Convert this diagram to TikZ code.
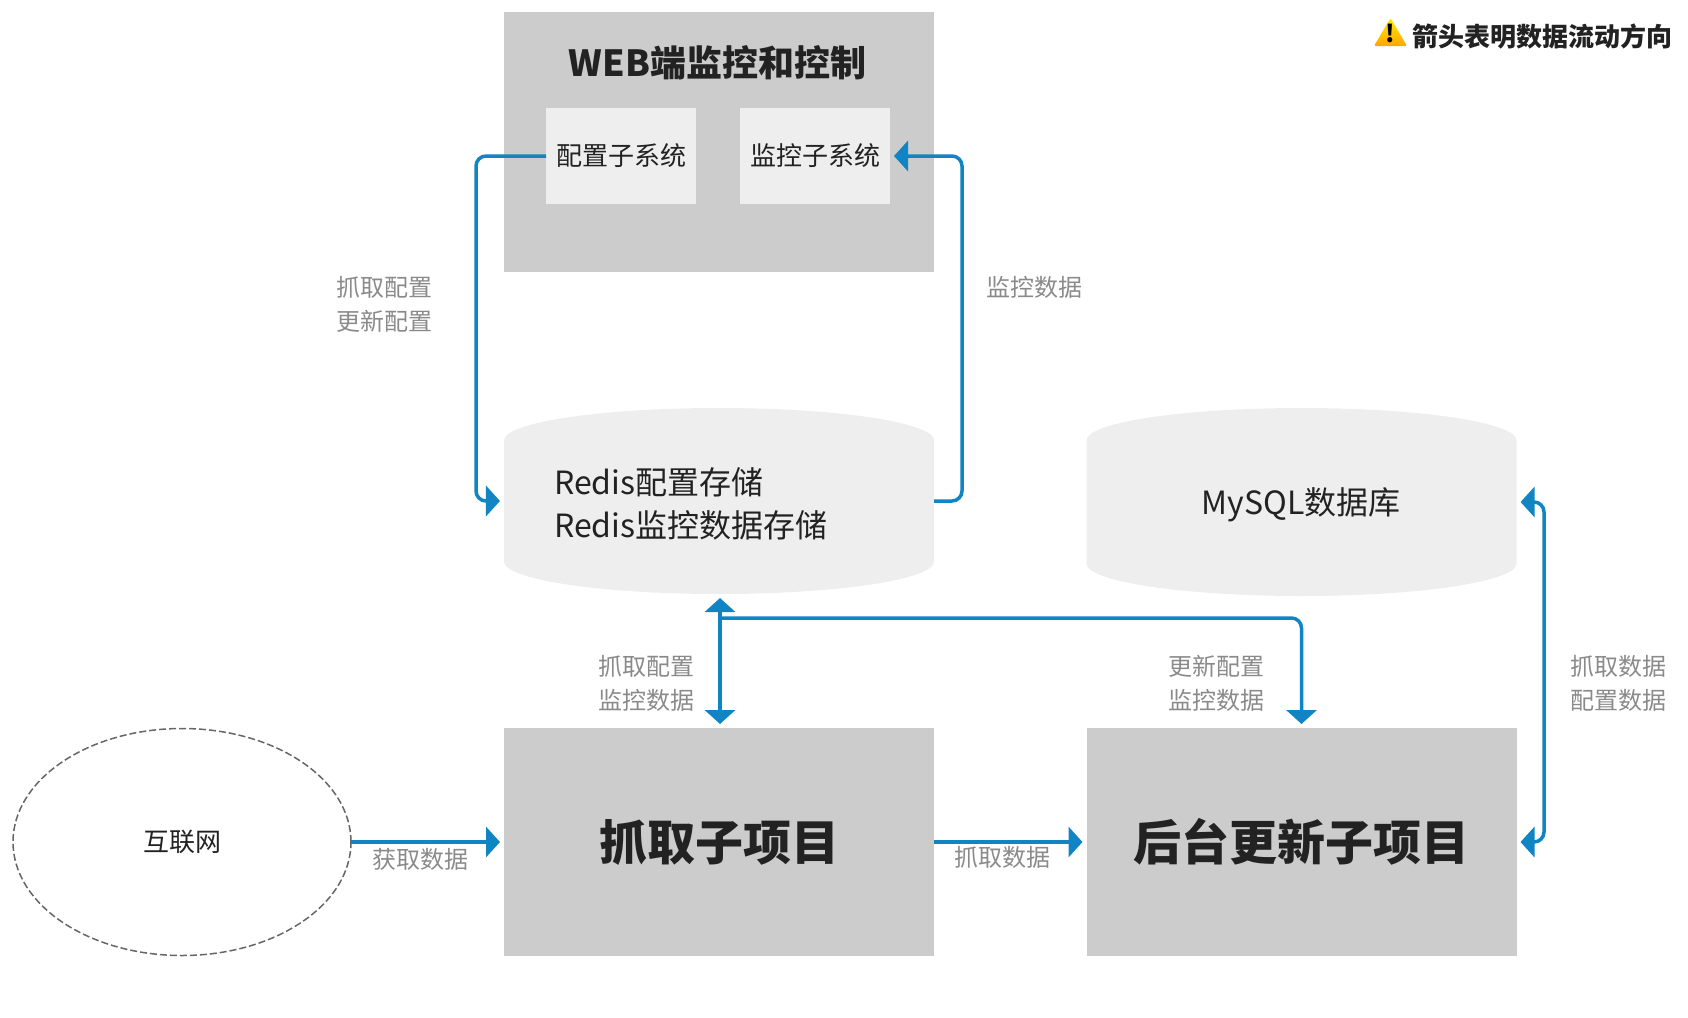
\documentclass[tikz,border=0pt]{standalone}
\usepackage{fontspec}
\setmainfont{Noto Sans CJK SC}
\usetikzlibrary{arrows.meta,positioning,shapes.geometric}
\definecolor{pilblue}{HTML}{1184C3}
\definecolor{boxgray}{HTML}{CCCCCC}
\definecolor{boxlight}{HTML}{EEEEEE}
\definecolor{txtdark}{HTML}{222222}
\definecolor{txtgray}{HTML}{8A8A8A}
\tikzset{
    >={Triangle[length=7pt,width=15pt]},
    boks/.style={
           rectangle,
           fill=boxgray,
           inner sep=0pt, outer sep=0pt,
           text=txtdark},
    subboks/.style={
           boks,
           fill=boxlight,
           minimum width=75pt,
           minimum height=48pt,
           font=\fontsize{13}{16}\selectfont},
    tank/.style={
           cylinder,
           shape border rotate=90,
           aspect=.326,
           anchor=shape center,
           fill=boxlight,
           inner sep=0pt, outer sep=0pt,
           minimum width=215pt,
           minimum height=93pt,
           font=\fontsize{16}{21.7}\selectfont},
    tanktxt/.style={
           text=txtdark,
           align=left,
           font=\fontsize{16}{21.7}\selectfont},
    graatxt/.style={
           text=txtgray,
           align=center,
           font=\fontsize{12}{17}\selectfont},
    pil/.style={
           line width=1.75pt,
           draw=pilblue,
           rounded corners=5pt,
           shorten >=2pt,
           shorten <=0pt}
}
\begin{document}
\begin{tikzpicture}[x=0.5pt,y=-0.5pt]
          \useasboundingbox (0,0) rectangle (1688,1018);
          % boxes
          \node[boks,minimum width=215pt,minimum height=130pt](web) at (719,142) {};
          \node[text=txtdark,font=\fontsize{18}{20}\bfseries](webtxt) at (717.5,63) {WEB端监控和控制};
          \node[subboks](cfg) at (621,156) {配置子系统};
          \node[subboks](mon) at (815,156) {监控子系统};
          \node[tank](redis) at (719,501) {\phantom{MySQL数据库}};
          \node[tanktxt,anchor=west](redistxt) at (547,504) {Redis配置存储\\Redis监控数据存储};
          \node[tank,minimum height=94pt](mysql) at (1301.5,502) {\phantom{MySQL数据库}};
          \node[tanktxt](mysqltxt) at (1301,505) {MySQL数据库};
          \node[boks,minimum width=215pt,minimum height=114pt,font=\fontsize{24}{28}\bfseries](crawl) at (719,842) {抓取子项目};
          \node[boks,minimum width=215pt,minimum height=114pt,font=\fontsize{24}{28}\bfseries](update) at (1301.5,842) {后台更新子项目};
          \node[draw=black!60,dash pattern=on 3.5pt off 1.5pt,line width=.75pt,ellipse,inner sep=0pt,outer sep=0pt,minimum width=169pt,minimum height=113.5pt,text=txtdark,font=\fontsize{13}{15}\selectfont](net) at (182,842) {互联网};
          % legend
          \draw[draw=none,top color=yellow!85!orange,bottom color=orange!70!yellow,rounded corners=1pt] (1374,46) -- (1390.5,18) -- (1407,46) -- cycle;
          \node[text=black,font=\fontsize{12}{14}\bfseries](warn) at (1390.5,33) {!};
          \node[text=txtdark,anchor=west,font=\fontsize{13}{15}\bfseries](legend) at (1405,36) {箭头表明数据流动方向};
          % bends
          \coordinate (lbus) at (476,0);
          \coordinate (rbus) at (962,0);
          \coordinate (sbus) at (0,618);
          \coordinate (ebus) at (1544,0);
          \coordinate (redisw) at (redis.180 |- redis.shape center);
          \coordinate (redise) at (redis.0 |- redis.shape center);
          \coordinate (mysqle) at (mysql.0 |- mysql.shape center);
          % arrows
          \draw[pil,->] (cfg.west) -- (cfg.west -| lbus) -- (redisw -| lbus) -- (redisw);
          \draw[pil,->] (redise) -- (redise -| rbus) -- (mon.east -| rbus) -- (mon.east);
          \draw[pil,<->,shorten <=2pt] ([xshift=.5pt]crawl.north) -- ([xshift=.5pt]redis.270);
          \draw[pil,->] ([xshift=.5pt]redis.270 |- sbus) -- (update.north |- sbus) -- (update.north);
          \draw[pil,->] (net.east) -- (crawl.west);
          \draw[pil,->] (crawl.east) -- (update.west);
          \draw[pil,<->,shorten <=2pt] (mysqle) -- (mysqle -| ebus) -- (update.east -| ebus) -- (update.east);
          % labels
          \node[graatxt](l1) at (384,304) {抓取配置\\更新配置};
          \node[graatxt](l2) at (1034,287) {监控数据};
          \node[graatxt](l3) at (646,683) {抓取配置\\监控数据};
          \node[graatxt](l4) at (1216,683) {更新配置\\监控数据};
          \node[graatxt](l5) at (1618,683) {抓取数据\\配置数据};
          \node[graatxt](l6) at (420,859) {获取数据};
          \node[graatxt](l7) at (1002,857) {抓取数据};
         \end{tikzpicture}
\end{document}
